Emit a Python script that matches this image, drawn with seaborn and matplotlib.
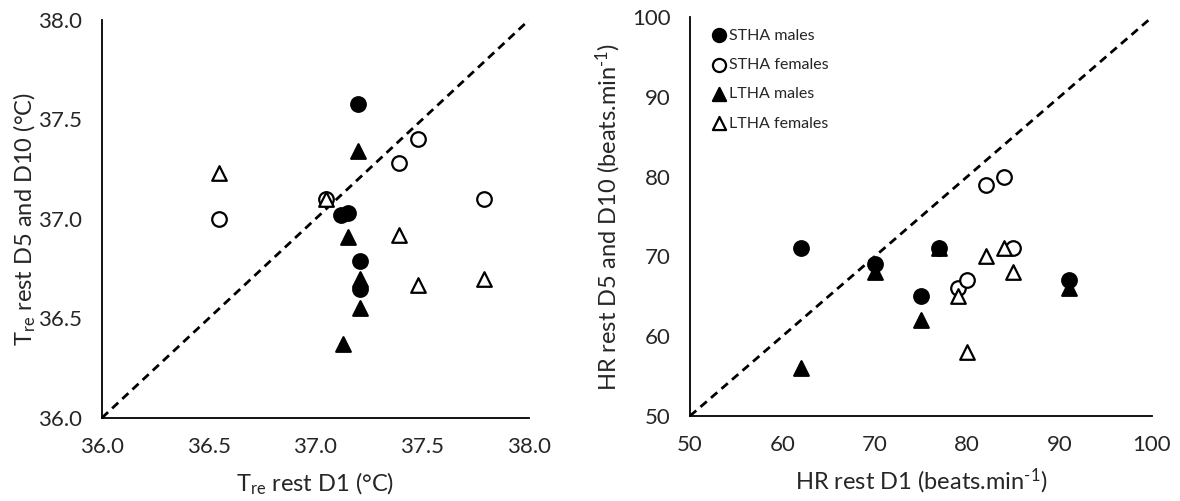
import pandas as pd
import matplotlib.pyplot as plt
import seaborn as sns

# Groups and their marker styles
groups = ['STHA males', 'STHA females', 'LTHA males', 'LTHA females']
markers = ['o', 'o', '^', '^']
faces = ['black', 'white', 'black', 'white']

# Rectal temperature at rest (°C): D1 vs D5/D10
tre_d1 = {
    'STHA males': [37.20, 37.12, 37.15, 37.21, 37.21],
    'STHA females': [37.48, 37.39, 37.05, 37.79, 36.55],
    'LTHA males': [37.20, 37.15, 37.21, 37.21, 37.13],
    'LTHA females': [37.05, 37.39, 37.48, 37.79, 36.55],
}
tre_d5_d10 = {
    'STHA males': [37.58, 37.02, 37.03, 36.79, 36.65],
    'STHA females': [37.40, 37.28, 37.10, 37.10, 37.00],
    'LTHA males': [37.34, 36.91, 36.70, 36.55, 36.37],
    'LTHA females': [37.10, 36.92, 36.67, 36.70, 37.23],
}

# Heart rate at rest (beats/min): D1 vs D5/D10
hr_d1 = {
    'STHA males': [62, 70, 75, 77, 91],
    'STHA females': [82, 84, 85, 79, 80],
    'LTHA males': [62, 70, 75, 77, 91],
    'LTHA females': [82, 84, 85, 79, 80],
}
hr_d5_d10 = {
    'STHA males': [71, 69, 65, 71, 67],
    'STHA females': [79, 80, 71, 66, 67],
    'LTHA males': [56, 68, 62, 71, 66],
    'LTHA females': [70, 71, 68, 65, 58],
}

sns.set_style('white')
plt.rcParams['font.family'] = ['Lato', 'DejaVu Sans']
plt.rcParams['mathtext.fontset'] = 'custom'
plt.rcParams['mathtext.rm'] = 'Lato'
plt.rcParams['mathtext.it'] = 'Lato'
plt.rcParams['mathtext.default'] = 'rm'

fig = plt.figure(figsize=(11.8, 5.01), dpi=100)
ax1 = fig.add_axes([0.0864, 0.166, 0.3619, 0.794])
ax2 = fig.add_axes([0.5847, 0.1697, 0.3915, 0.796])


def draw(ax, xs, ys, lims, ticks, fmt):
    for g, m, fc in zip(groups, markers, faces):
        df = pd.DataFrame({'x': xs[g], 'y': ys[g]})
        sns.scatterplot(data=df, x='x', y='y', ax=ax, marker=m, s=110,
                        color=fc, edgecolor='black', linewidth=1.6,
                        label=g, zorder=3, clip_on=False)
    ax.plot(lims, lims, color='black', lw=2, dashes=(3, 2), zorder=2)
    ax.set_xlim(lims)
    ax.set_ylim(lims)
    ax.set_xticks(ticks)
    ax.set_yticks(ticks)
    ax.set_xticklabels([fmt.format(t) for t in ticks], fontsize=16)
    ax.set_yticklabels([fmt.format(t) for t in ticks], fontsize=16)
    ax.tick_params(axis='x', length=0, pad=14)
    ax.tick_params(axis='y', length=0, pad=14)
    for s in ['top', 'right']:
        ax.spines[s].set_visible(False)
    for s in ['left', 'bottom']:
        ax.spines[s].set_color('black')
        ax.spines[s].set_linewidth(1.3)


def place_labels(ax, xl, yl, xpos, ypos):
    ax.set_xlabel(xl, fontsize=17)
    ax.set_ylabel(yl, fontsize=17)
    ax.xaxis.set_label_coords(0.5, xpos)
    ax.yaxis.set_label_coords(ypos, 0.5)
    ax.xaxis.label.set_va('center')
    ax.yaxis.label.set_va('center')


draw(ax1, tre_d1, tre_d5_d10, [36.0, 38.0], [36.0, 36.5, 37.0, 37.5, 38.0], '{:.1f}')
ax1.get_legend().remove()
place_labels(ax1, 'T$_{re}$ rest D1 (°C)', 'T$_{re}$ rest D5 and D10 (°C)', -0.165, -0.18)

draw(ax2, hr_d1, hr_d5_d10, [50, 100], [50, 60, 70, 80, 90, 100], '{:d}')
place_labels(ax2, r'HR rest D1 (beats.min$^{\text{-1}}$)',
             r'HR rest D5 and D10 (beats.min$^{\text{-1}}$)', -0.165, -0.177)
ax2.legend(loc='upper left', bbox_to_anchor=(0.045, 0.972), frameon=False,
           fontsize=11.5, handlelength=1.0, handletextpad=0.15, labelspacing=0.95,
           markerscale=0.9, borderpad=0, borderaxespad=0)

plt.savefig('out.png', dpi=100)
plt.close()
